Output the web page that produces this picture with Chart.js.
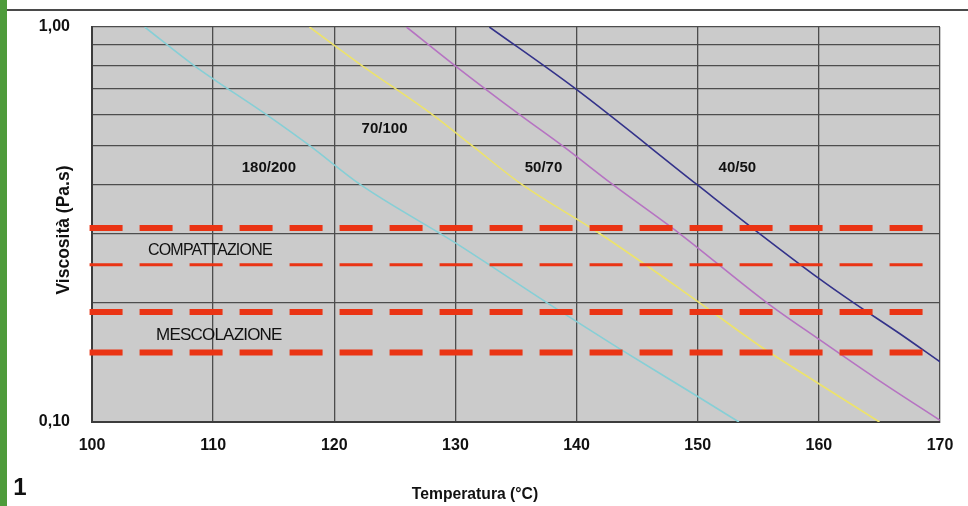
<!DOCTYPE html>
<html><head><meta charset="utf-8">
<script src="https://cdn.jsdelivr.net/npm/chart.js@4.4.1/dist/chart.umd.min.js"></script>
<style>
html,body{margin:0;padding:0;background:#fff;overflow:hidden}
#wrap{position:relative;width:968px;height:506px}
canvas{display:block}
</style></head><body>
<div id="wrap"><canvas id="c" width="968" height="506"></canvas></div>
<script>
// ---- data ----
const xTickValues = [100, 110, 120, 130, 140, 150, 160, 170];
const xTickLabels = ['100', '110', '120', '130', '140', '150', '160', '170'];
const yTickValues = [0.1, 1];
const yTickLabels = ['0,10', '1,00'];
const yGridValues = [0.1, 0.2, 0.3, 0.4, 0.5, 0.6, 0.7, 0.8, 0.9, 1.0];

const seriesNames = ['180/200', '70/100', '50/70', '40/50'];
const t180 = [104.35, 108.4, 114.4, 118.0, 122.1, 130.0, 137.6, 143.3, 150.0, 153.4];
const v180 = [1.0, 0.8, 0.6, 0.5, 0.4, 0.284, 0.2, 0.155, 0.116, 0.1];
const t70 = [117.95, 122.25, 128.1, 131.4, 135.45, 141.9, 149.9, 155.1, 160.0, 165.0];
const v70 = [1.0, 0.8, 0.6, 0.5, 0.4, 0.3, 0.203, 0.156, 0.125, 0.1];
const t50 = [125.96, 129.93, 135.3, 138.85, 142.95, 148.5, 155.75, 160.0, 164.7, 170.0];
const v50 = [1.0, 0.8, 0.6, 0.5, 0.4, 0.3, 0.2, 0.162, 0.129, 0.101];
const t40 = [132.8, 139.85, 149.9, 155.1, 160.0, 162.7, 166.6, 170.0];
const v40 = [1.0, 0.7, 0.4, 0.3, 0.231, 0.202, 0.168, 0.142];

const limitSpanT = [99.8, 168.75];
const compactionLimits = [0.31, 0.25];
const mixingLimits = [0.19, 0.15];
const zoneNames = ['COMPATTAZIONE', 'MESCOLAZIONE'];

const xTitle = 'Temperatura (°C)';
const yTitle = 'Viscosità (Pa.s)';
const figureNumber = '1';

// ---- styling ----
const FONT = "'Liberation Sans', Arial, sans-serif";
const RED = '#EA3414';
const curveColors = ['#86CFD6', '#EDE36A', '#B673C2', '#33328A'];

function pts(ts, vs) { return ts.map((t, i) => ({ x: t, y: vs[i] })); }
function hline(v) { return [{ x: limitSpanT[0], y: v }, { x: limitSpanT[1], y: v }]; }

const curves = [[t180, v180], [t70, v70], [t50, v50], [t40, v40]].map((d, i) => ({
  label: seriesNames[i],
  data: pts(d[0], d[1]),
  borderColor: curveColors[i],
  borderWidth: 1.6,
  cubicInterpolationMode: 'monotone',
  pointRadius: 0,
  order: 2
}));

const limits = [
  { v: compactionLimits[0], w: 6 }, { v: compactionLimits[1], w: 3 },
  { v: mixingLimits[0], w: 6 }, { v: mixingLimits[1], w: 6 }
].map((l, i) => ({
  label: 'limit' + i,
  data: hline(l.v),
  borderColor: RED,
  borderWidth: l.w,
  borderDash: [33, 17],
  borderCapStyle: 'butt',
  pointRadius: 0,
  clip: false,
  order: 0
}));

// annotation anchors (data coordinates)
const seriesLabelAt = [[114.6, 0.439], [124.15, 0.551], [137.27, 0.439], [153.27, 0.439]];
const zoneLabelAt = [[109.73, 0.2723], [110.47, 0.1658]];

const decor = {
  id: 'decor',
  beforeDraw(chart) {
    const { ctx, chartArea: a } = chart;
    ctx.save();
    ctx.fillStyle = '#fff';
    ctx.fillRect(0, 0, chart.width, chart.height);
    ctx.fillStyle = '#CBCBCB';
    ctx.fillRect(a.left, a.top, a.right - a.left, a.bottom - a.top);
    ctx.fillStyle = '#4E9B3B';
    ctx.fillRect(0, 0, 7, chart.height);
    ctx.fillStyle = '#4a4a4a';
    ctx.fillRect(7, 9, chart.width - 7, 2);
    ctx.restore();
  },
  afterDraw(chart) {
    const { ctx } = chart;
    const sx = chart.scales.x, sy = chart.scales.y;
    ctx.save();
    ctx.fillStyle = '#111';
    ctx.textAlign = 'center';
    ctx.textBaseline = 'middle';
    ctx.font = 'bold 15px ' + FONT;
    seriesNames.forEach((n, i) => {
      ctx.fillText(n, sx.getPixelForValue(seriesLabelAt[i][0]), sy.getPixelForValue(seriesLabelAt[i][1]));
    });
    ctx.font = '16px ' + FONT;
    ctx.letterSpacing = '-0.8px';
    ctx.fillText(zoneNames[0], sx.getPixelForValue(zoneLabelAt[0][0]), sy.getPixelForValue(zoneLabelAt[0][1]));
    ctx.font = '17px ' + FONT;
    ctx.fillText(zoneNames[1], sx.getPixelForValue(zoneLabelAt[1][0]), sy.getPixelForValue(zoneLabelAt[1][1]));
    ctx.letterSpacing = '0px';
    // axis titles
    ctx.font = 'bold 15.7px ' + FONT;
    ctx.fillText(xTitle, 475, 495);
    ctx.save();
    ctx.translate(64.5, 230);
    ctx.rotate(-Math.PI / 2);
    ctx.font = 'bold 17.5px ' + FONT;
    ctx.fillText(yTitle, 0, 0);
    ctx.restore();
    ctx.font = 'bold 24px ' + FONT;
    ctx.fillText(figureNumber, 20, 488);
    ctx.restore();
  }
};

new Chart(document.getElementById('c'), {
  type: 'line',
  data: { datasets: [...limits, ...curves] },
  options: {
    responsive: false,
    animation: false,
    devicePixelRatio: 1,
    layout: { autoPadding: false, padding: { top: 27, right: 28, left: 0, bottom: 0 } },
    plugins: { legend: { display: false }, tooltip: { enabled: false } },
    scales: {
      x: {
        type: 'linear', min: 100, max: 170,
        afterBuildTicks: s => { s.ticks = xTickValues.map(v => ({ value: v })); },
        afterFit: s => { s.height = 84; s.paddingLeft = 0; s.paddingRight = 0; },
        ticks: {
          autoSkip: false, maxRotation: 0, padding: 14, color: '#111',
          font: { family: FONT, size: 16, weight: 'bold' },
          callback: v => { const i = xTickValues.indexOf(v); return i >= 0 ? xTickLabels[i] : ''; }
        },
        grid: { color: '#4d4d4d', lineWidth: 1.3, drawTicks: false },
        border: { color: '#3c3c3c', width: 2 }
      },
      y: {
        type: 'logarithmic', min: 0.1, max: 1,
        afterBuildTicks: s => { s.ticks = yGridValues.map(v => ({ value: v })); },
        afterFit: s => { s.width = 92; s.paddingTop = 0; s.paddingBottom = 0; },
        ticks: {
          autoSkip: false, padding: 22, color: '#111',
          font: { family: FONT, size: 16, weight: 'bold' },
          callback: v => { const i = yTickValues.findIndex(t => Math.abs(t - v) < 1e-9); return i >= 0 ? yTickLabels[i] : ''; }
        },
        grid: { color: '#4d4d4d', lineWidth: 1.3, drawTicks: false },
        border: { color: '#3c3c3c', width: 2 }
      }
    }
  },
  plugins: [decor]
});
</script>
</body></html>
